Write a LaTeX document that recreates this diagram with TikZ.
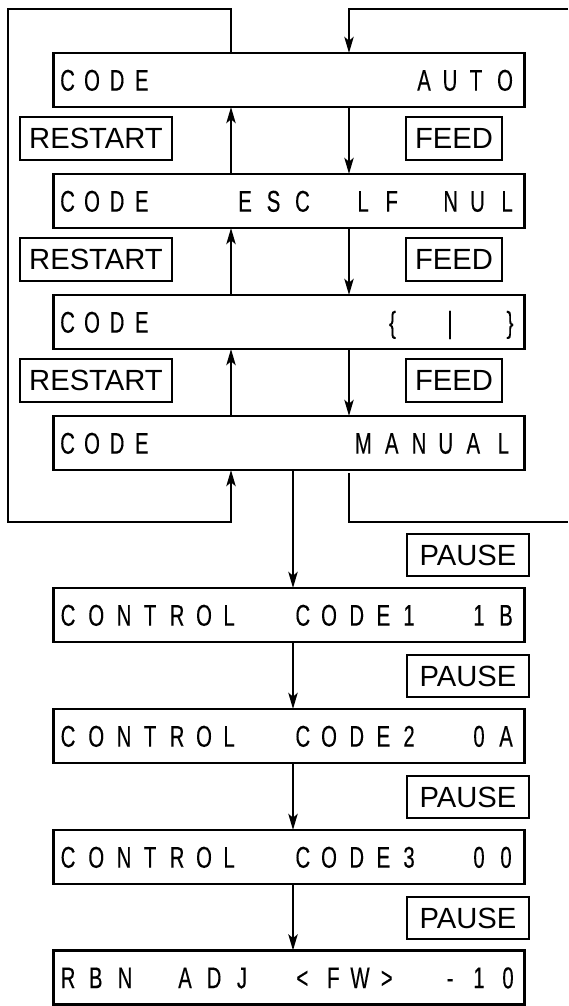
\documentclass[tikz,border=0pt]{standalone}
\usepackage{fontspec}
\setmainfont{Liberation Sans}
\newfontfamily\lcdfont[FakeStretch=0.68,FakeBold=0.2]{Liberation Sans}
\usetikzlibrary{arrows.meta}
% place one LCD character centred at x (reference pixels)
\newcommand\lc[2]{\rlap{\hspace*{\dimexpr #1pt/2-26.65pt\relax}\makebox[0pt]{#2}}}
\newcommand\lcdline[1]{\makebox[235.65pt][l]{#1}}
\newcommand\codeL{\lc{67.5}{C}\lc{92}{O}\lc{117}{D}\lc{141.7}{E}}
\newcommand\ctrlL{\lc{68}{C}\lc{96.2}{O}\lc{124}{N}\lc{150}{T}\lc{177}{R}\lc{204}{O}\lc{229}{L}\lc{302.8}{C}\lc{329}{O}\lc{356.7}{D}\lc{383.3}{E}}
\tikzset{
  lcdbox/.style={draw, line width=1.4pt, minimum width=235.65pt, minimum height=27pt,
    inner sep=0pt, outer sep=0pt, font=\lcdfont\fontsize{15pt}{16pt}\selectfont,
    text height=10.7pt, text depth=0pt},
  keybox/.style={draw, line width=1.4pt, minimum height=21.5pt, inner sep=0pt,
    outer sep=0pt, font=\fontsize{14.6pt}{16pt}\selectfont, text height=10.4pt, text depth=0pt},
  conn/.style={line width=1.2pt},
  arr/.style={conn, -{Stealth[length=8pt,width=4.6pt,inset=1.8pt]}},
}
\begin{document}
\begin{tikzpicture}[x=0.5pt,y=-0.5pt]
\useasboundingbox (0,0) rectangle (568,1006);
% main boxes
\node[lcdbox] (b1) at (289,80) {\lcdline{\codeL\lc{424}{A}\lc{450}{U}\lc{476}{T}\lc{505}{O}}};
\node[lcdbox] (b2) at (289,201) {\lcdline{\codeL\lc{245}{E}\lc{273.5}{S}\lc{302.4}{C}\lc{363}{L}\lc{391.7}{F}\lc{450.7}{N}\lc{477.5}{U}\lc{507}{L}}};
\node[lcdbox] (b3) at (289,322) {\lcdline{\codeL\lc{392.5}{\{}\lc{450}{|}\lc{510}{\}}}};
\node[lcdbox] (b4) at (289,443) {\lcdline{\codeL\lc{363.3}{M}\lc{391.7}{A}\lc{419}{N}\lc{445.7}{U}\lc{473.3}{A}\lc{503.3}{L}}};
\node[lcdbox] (c1) at (289,615) {\lcdline{\ctrlL\lc{409}{1}\lc{479}{1}\lc{506}{B}}};
\node[lcdbox] (c2) at (289,736) {\lcdline{\ctrlL\lc{409}{2}\lc{479}{0}\lc{506}{A}}};
\node[lcdbox] (c3) at (289,857) {\lcdline{\ctrlL\lc{409}{3}\lc{479}{0}\lc{506}{0}}};
\node[lcdbox] (c4) at (289,977.5) {\lcdline{\lc{68}{R}\lc{95.7}{B}\lc{125}{N}\lc{185}{A}\lc{214}{D}\lc{242}{J}\lc{302.4}{<}\lc{333.3}{F}\lc{360}{W}\lc{386.7}{>}\lc{450}{-}\lc{479}{1}\lc{508}{0}}};
% key labels
\node[keybox, minimum width=76pt] (r1) at (96,138.5) {RESTART};
\node[keybox, minimum width=76pt] (r2) at (96,259.5) {RESTART};
\node[keybox, minimum width=76pt] (r3) at (96,380.5) {RESTART};
\node[keybox, minimum width=48pt] (f1) at (454,138.5) {FEED};
\node[keybox, minimum width=48pt] (f2) at (454,259.5) {FEED};
\node[keybox, minimum width=48pt] (f3) at (454,380.5) {FEED};
\node[keybox, minimum width=61pt, minimum height=21pt] (p1) at (468,555) {PAUSE};
\node[keybox, minimum width=61pt, minimum height=21pt] (p2) at (468,676) {PAUSE};
\node[keybox, minimum width=61pt, minimum height=21pt] (p3) at (468,797) {PAUSE};
\node[keybox, minimum width=61pt, minimum height=21pt] (p4) at (468,918) {PAUSE};
% helper coordinates
\coordinate (xl) at (231,0);
\coordinate (xr) at (349,0);
\coordinate (xm) at (293,0);
\coordinate (ltop) at (8,9);
\coordinate (lbot) at (8,522);
\coordinate (rtop) at (568,9);
\coordinate (rbot) at (568,522);
% up arrows (RESTART)
\draw[arr] (b2.north -| xl) -- (b1.south -| xl);
\draw[arr] (b3.north -| xl) -- (b2.south -| xl);
\draw[arr] (b4.north -| xl) -- (b3.south -| xl);
% down arrows (FEED)
\draw[arr] (b1.south -| xr) -- (b2.north -| xr);
\draw[arr] (b2.south -| xr) -- (b3.north -| xr);
\draw[arr] (b3.south -| xr) -- (b4.north -| xr);
% left loop
\draw[arr] (b1.north -| xl) |- (ltop) -- (lbot) -| (b4.south -| xl);
% right loop
\draw[arr] (rtop) -| (b1.north -| xr);
\draw[conn] ([yshift=-1.5pt]b4.south -| xr) |- (rbot);
% main chain
\draw[arr] (b4.south -| xm) -- (c1.north -| xm);
\draw[arr] (c1.south -| xm) -- (c2.north -| xm);
\draw[arr] (c2.south -| xm) -- (c3.north -| xm);
\draw[arr] (c3.south -| xm) -- (c4.north -| xm);
\end{tikzpicture}
\end{document}
